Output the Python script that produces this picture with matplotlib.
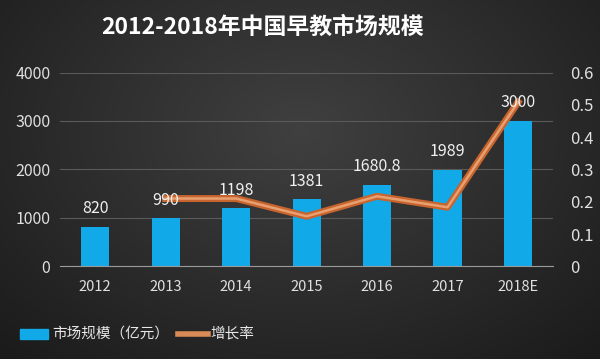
import numpy as np
import matplotlib.pyplot as plt

plt.rcParams['font.family'] = ['Noto Sans CJK SC', 'DejaVu Sans']

years = ['2012', '2013', '2014', '2015', '2016', '2017', '2018E']
market = [820, 990, 1198, 1381, 1680.8, 1989, 3000]
market_labels = ['820', '990', '1198', '1381', '1680.8', '1989', '3000']
growth = [None, 0.21, 0.21, 0.155, 0.217, 0.183, 0.508]

fig = plt.figure(figsize=(6, 3.59), dpi=100)

# dark radial background
bg = fig.add_axes([0, 0, 1, 1])
yy, xx = np.mgrid[0:359, 0:600]
d = np.sqrt(((xx - 300) / 420.0) ** 2 + ((yy - 130) / 300.0) ** 2)
shade = np.clip(0.25 - 0.14 * d, 0.09, 0.26)
bg.imshow(np.dstack([shade, shade, shade]), aspect='auto', extent=[0, 1, 0, 1])
bg.axis('off')

ax = fig.add_axes([0.1, 0.258, 0.822, 0.54])
ax.patch.set_alpha(0)
x = np.arange(len(years))
ax.bar(x, market, width=0.4, color='#12A9E8', zorder=2)
ax.set_xlim(-0.5, len(years) - 0.5)
ax.set_ylim(0, 4000)
ax.set_yticks([0, 1000, 2000, 3000, 4000])
ax.set_xticks(x)
ax.set_xticklabels(years)
ax.grid(axis='y', color='#5a5a5a', lw=0.8)
ax.set_axisbelow(True)
for s in ['top', 'right', 'left']:
    ax.spines[s].set_visible(False)
ax.spines['bottom'].set_color('#9a9a9a')
ax.tick_params(colors='#e0e0e0', labelsize=11, length=0)
ax.tick_params(axis='x', pad=10, labelsize=10.5)
ax.tick_params(axis='y', pad=7, labelsize=11.5)

ax2 = ax.twinx()
ax2.set_ylim(0, 0.6)
ax2.set_yticks([0, 0.1, 0.2, 0.3, 0.4, 0.5, 0.6])
ax2.set_yticklabels(['0', '0.1', '0.2', '0.3', '0.4', '0.5', '0.6'])
for s in ax2.spines.values():
    s.set_visible(False)
ax2.tick_params(colors='#e0e0e0', labelsize=12, length=0, pad=12)
gx = [i for i, g in enumerate(growth) if g is not None]
gy = [g for g in growth if g is not None]
ax2.plot(gx, gy, color='#C8642E', lw=5, solid_joinstyle='round', zorder=3)
ax2.plot(gx, gy, color='#E8A070', lw=1.8, solid_joinstyle='round', zorder=3)

for i, v in enumerate(market):
    ax2.annotate(market_labels[i], xy=(i, v / 4000 * 0.6), xytext=(0, 7),
                 textcoords='offset points', ha='center', va='bottom',
                 color='#f0f0f0', fontsize=11.5, zorder=5)

fig.text(0.437, 0.925, '2012-2018年中国早教市场规模', ha='center', va='center',
         color='white', fontsize=16.5, fontweight='bold')

# legend
fig.patches.append(plt.Rectangle((0.034, 0.056), 0.046, 0.028, color='#12A9E8',
                                 transform=fig.transFigure))
fig.text(0.087, 0.07, '市场规模（亿元）', color='#e8e8e8', fontsize=10.5, va='center')
fig.lines.append(plt.Line2D([0.296, 0.347], [0.07, 0.07], color='#D98A55', lw=4,
                            transform=fig.transFigure))
fig.text(0.35, 0.07, '增长率', color='#e8e8e8', fontsize=10.5, va='center')

fig.savefig('out.png', dpi=100)
